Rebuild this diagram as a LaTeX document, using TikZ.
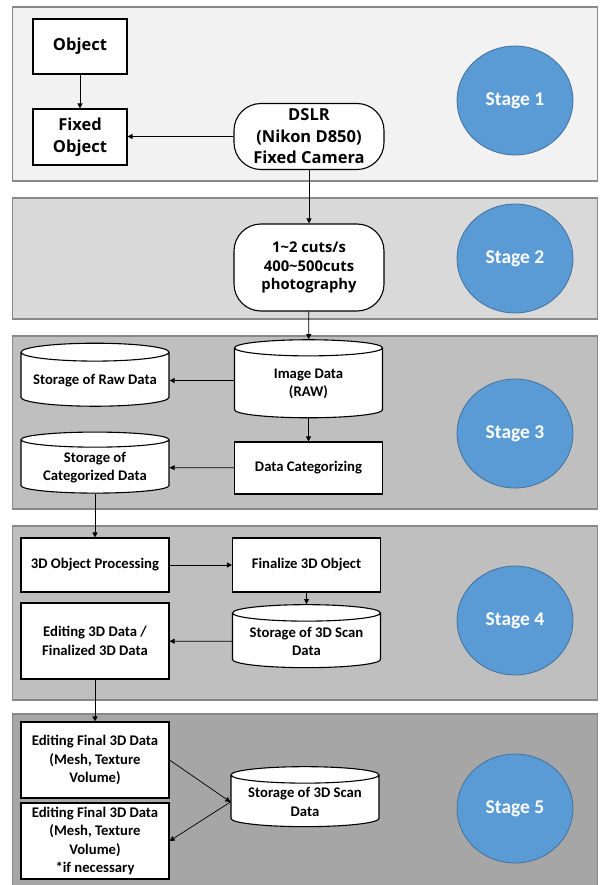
\documentclass[tikz,border=0pt]{standalone}
\usepackage{fontspec}
\setmainfont{Carlito}
\newfontfamily\malgun{Open Sans}
\usetikzlibrary{shapes.geometric,arrows.meta}
\definecolor{bandA}{HTML}{F2F2F2}
\definecolor{bandB}{HTML}{D9D9D9}
\definecolor{bandC}{HTML}{BFBFBF}
\definecolor{bandE}{HTML}{A6A6A6}
\definecolor{bandline}{HTML}{888888}
\definecolor{stageblue}{HTML}{5B9BD5}
\definecolor{stageedge}{HTML}{41719C}

\begin{document}
\begin{tikzpicture}[x=1pt,y=1pt,yscale=-1,
  band/.style={draw=bandline,line width=1.2pt},
  box/.style={draw,fill=white,line width=1.1pt,align=center,inner sep=2pt,
    minimum width=148pt,font=\bfseries\fontsize{14.7}{18.4}\selectfont},
  rbox/.style={box,rounded corners=27pt,minimum width=150pt},
  cyl/.style={box,cylinder,shape border rotate=90,aspect=0.14},
  stagebig/.style={font=\malgun\bfseries\fontsize{16.5}{21.5}\selectfont},
  stagemid/.style={font=\malgun\bfseries\fontsize{14.8}{18.7}\selectfont},
  stage/.style={ellipse,fill=stageblue,draw=stageedge,line width=0.8pt,text=white,
    minimum width=116pt,minimum height=109pt,font=\bfseries\fontsize{19.5}{23}\selectfont},
  conn/.style={-{Triangle[length=5pt,width=5pt]},line width=0.7pt}]

\useasboundingbox (0,0) rectangle (599,885);

\draw[band,fill=bandA] (12.5,7) rectangle (597.5,181);
\draw[band,fill=bandB] (12.5,198) rectangle (597.5,319);
\draw[band,fill=bandC] (12.5,336) rectangle (597.5,509);
\draw[band,fill=bandC] (12.5,526) rectangle (597.5,700);
\draw[band,fill=bandE] (12.5,714) rectangle (597.5,895);

\node[stage] (stage1) at (515,100.5) {Stage 1};
\node[stage] (stage2) at (515,258.5) {Stage 2};
\node[stage] (stage3) at (515,433.5) {Stage 3};
\node[stage] (stage4) at (515,620.5) {Stage 4};
\node[stage] (stage5) at (515,808.5) {Stage 5};

\node[box,stagebig,minimum width=94pt,minimum height=55pt] (object) at (80,46.5) {Object};
\node[box,stagebig,minimum width=94pt,minimum height=56pt] (fixed) at (80,137) {Fixed\\Object};
\node[rbox,stagebig,minimum height=66pt] (dslr) at (309,136.5) {DSLR\\(Nikon D850)\\Fixed Camera};
\node[rbox,stagemid,minimum height=87pt] (cuts) at (309,267.5) {1\textasciitilde2 cuts/s\\400\textasciitilde500cuts\\photography};

\node[cyl,minimum height=78pt,aspect=0.22] (image) at (308.5,384) {Image Data\\(RAW)};
\node[cyl,minimum height=63pt] (rawstore) at (95,380.5) {Storage of Raw Data};
\node[box,minimum height=52pt] (categ) at (308.5,468) {Data Categorizing};
\node[cyl,minimum height=61pt] (catstore) at (95,467.5) {Storage of\\Categorized Data};

\node[box,minimum height=54pt] (process) at (95,565) {3D Object Processing};
\node[box,minimum height=54pt] (finalize) at (306.5,565) {Finalize 3D Object};
\node[cyl,minimum height=63pt] (scan) at (306.5,641.5) {Storage of 3D Scan\\Data};
\node[box,minimum height=76pt] (editing) at (95,641) {Editing 3D Data /\\Finalized 3D Data};

\node[box,minimum height=76pt] (final) at (95,760) {Editing Final 3D Data\\(Mesh, Texture\\Volume)};
\node[box,minimum height=76pt] (finalopt) at (95,841) {Editing Final 3D Data\\(Mesh, Texture\\Volume)\\*if necessary};
\node[cyl,minimum height=60pt] (scanfinal) at (305,802) {Storage of 3D Scan\\Data};

\draw[conn] (object) -- (fixed);
\draw[conn] (dslr.west) -- (dslr.west -| fixed.east);
\draw[conn] (dslr) -- (cuts);
\draw[conn] (cuts) -- (image);
\draw[conn] (image.west |- rawstore.east) -- (rawstore.east);
\draw[conn] (image) -- (categ);
\draw[conn] (categ) -- (catstore);
\draw[conn] (catstore) -- (process);
\draw[conn] (process) -- (finalize);
\draw[conn] (finalize) -- (scan);
\draw[conn] (scan) -- (editing);
\draw[conn] (editing) -- (final);
\draw[conn] (final.east) -- (scanfinal.west);
\draw[conn] (scanfinal.west) -- (finalopt.east);
\end{tikzpicture}
\end{document}
